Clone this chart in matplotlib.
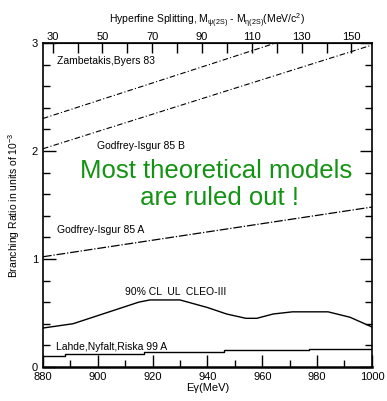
import numpy as np
import matplotlib
matplotlib.use("Agg")
import matplotlib.pyplot as plt
from matplotlib.ticker import MultipleLocator

plt.rcParams['font.family'] = ['Liberation Sans', 'DejaVu Sans']
plt.rcParams['mathtext.fontset'] = 'custom'
plt.rcParams['mathtext.rm'] = 'Liberation Sans'
plt.rcParams['mathtext.it'] = 'Liberation Sans'

# model predictions (Egamma in MeV, branching ratio in 1e-3)
zb_e = [880, 965]
zb_br = [2.30, 3.00]
gib_e = [880, 1000]
gib_br = [2.02, 2.98]
gia_e = [880, 1000]
gia_br = [1.02, 1.48]

# CLEO-III 90% CL upper limit
cleo_e = [880, 891, 903, 915, 919, 930, 940, 947, 954, 958, 964, 971, 984, 992, 1000]
cleo_br = [0.36, 0.40, 0.50, 0.60, 0.62, 0.62, 0.55, 0.49, 0.45, 0.45, 0.49, 0.51, 0.51, 0.46, 0.37]

# Lahde, Nyfalt, Riska 99 A (stepwise)
ln_e = [880, 888, 917, 946, 977, 999, 1000]
ln_br = [0.10, 0.116, 0.137, 0.153, 0.169, 0.169, 0.19]

labels = ["Zambetakis,Byers 83", "Godfrey-Isgur 85 B", "Godfrey-Isgur 85 A",
          "90% CL  UL  CLEO-III", "Lahde,Nyfalt,Riska 99 A"]
label_e = [885, 899.6, 885, 909.9, 884.9]
label_br = [2.83, 2.05, 1.265, 0.695, 0.184]


def to_hf(e):
    return 26.1 + 1.101 * (np.asarray(e) - 880)


def from_hf(h):
    return 880 + (np.asarray(h) - 26.1) / 1.101


fig = plt.figure(figsize=(3.87, 4.01), dpi=100)
ax = fig.add_axes([0.111, 0.085, 0.85, 0.808])

ax.plot(zb_e, zb_br, color='k', lw=0.8, ls=(0, (5, 2, 1, 2)))
ax.plot(gib_e, gib_br, color='k', lw=0.8, ls=(0, (5, 2, 1, 2)))
ax.plot(gia_e, gia_br, color='k', lw=0.9, ls=(0, (7, 1.5, 1, 1.5)))
ax.plot(cleo_e, cleo_br, color='k', lw=1.0)
ax.step(ln_e, ln_br, where='post', color='k', lw=1.0)

for t, x, y in zip(labels, label_e, label_br):
    ax.text(x, y, t, fontsize=7.5, va='center', ha='left')

ax.text(943, 1.69, "Most theoretical models\n are ruled out !", color='#139313',
        fontsize=18.5, ha='center', va='center', linespacing=1.15)

ax.set_xlim(880, 1000)
ax.set_ylim(0, 3)
ax.xaxis.set_major_locator(MultipleLocator(20))
ax.xaxis.set_minor_locator(MultipleLocator(10))
ax.yaxis.set_major_locator(MultipleLocator(1))
ax.yaxis.set_minor_locator(MultipleLocator(0.2))
ax.tick_params(which='both', direction='in', top=False, right=True, labelsize=8)
ax.tick_params(which='major', length=9, width=1)
ax.tick_params(which='minor', length=5, width=1)
for s in ax.spines.values():
    s.set_linewidth(1.2)
ax.spines['bottom'].set_linewidth(1.8)

ax.set_xlabel("E\u03b3(MeV)", fontsize=8, labelpad=1)
ax.set_ylabel("Branching Ratio in units of 10$^{-3}$", fontsize=7.5, labelpad=7)

sec = ax.secondary_xaxis('top', functions=(to_hf, from_hf))
sec.xaxis.set_major_locator(MultipleLocator(20))
sec.xaxis.set_minor_locator(MultipleLocator(10))
sec.set_xticks(np.arange(30, 151, 20))
sec.tick_params(which='both', direction='in', length=7, width=1, labelsize=8, pad=1)
sec.set_xlabel("Hyperfine Splitting, M$_{\\psi(2S)}$ - M$_{\\eta(2S)}$(MeV/c$^2$)",
               fontsize=7.5, labelpad=5)

fig.savefig("out.png", dpi=100)
